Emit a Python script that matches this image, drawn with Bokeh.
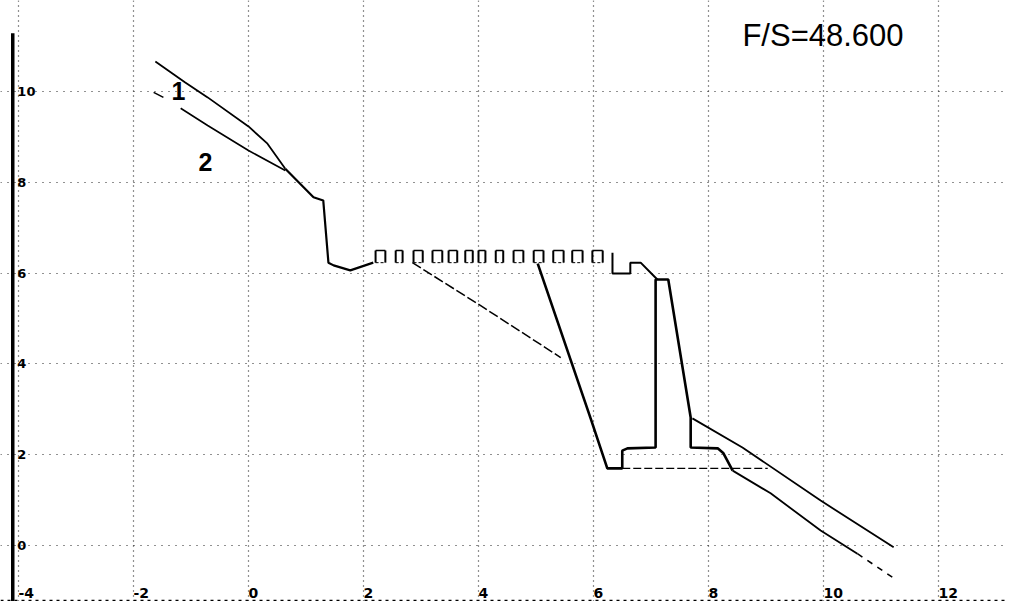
from bokeh.plotting import figure
from bokeh.models import Range1d, Span, FixedTicker
from bokeh.core.properties import value
from bokeh.embed import file_html
from bokeh.resources import INLINE

nan = float("nan")

# ---- data ----
x_ticks = [-4, -2, 0, 2, 4, 6, 8, 10, 12]
x_tick_labels = ["-4", "-2", "0", "2", "4", "6", "8", "10", "12"]
y_ticks = [0, 2, 4, 6, 8, 10]
y_tick_labels = ["0", "2", "4", "6", "8", "10"]

# curve 1 (upper-left branch)
c1_x = [-1.62, -1.10, -0.71, 0.00, 0.33, 0.64]
c1_y = [10.66, 10.20, 9.87, 9.23, 8.85, 8.30]
# curve 2 (lower-left branch)
c2_x = [-1.65, -1.48, nan, -1.18, -0.71, 0.00, 0.64]
c2_y = [9.98, 9.87, nan, 9.63, 9.25, 8.70, 8.26]
# common descent
common_x = [0.64, 1.13, 1.30, 1.39, 1.48, 1.77, 2.17]
common_y = [8.30, 7.67, 7.60, 6.23, 6.17, 6.06, 6.23]
# ladder of pulses
ladder_x = [2.21, 2.38, 2.56, 2.68, 2.87, 3.03, 3.20, 3.37, 3.48, 3.63, 3.77, 3.90, 4.00,
            4.12, 4.30, 4.43, 4.61, 4.78, 4.96, 5.13, 5.30, 5.48, 5.63, 5.81, 5.98, 6.16]
ladder_low = 6.23
ladder_high = 6.50
# small steps after the ladder
step_x = [6.33, 6.33, 6.64, 6.64, 6.82, 7.11]
step_y = [6.45, 5.99, 5.99, 6.23, 6.23, 5.86]
# shallow branch
shallow_x = [2.85, 3.98, 5.43]
shallow_y = [6.23, 5.33, 4.14]
# steep branch and pulse
steep_x = [5.03, 5.95, 6.24, 6.50, 6.50, 6.59, 7.08, 7.08, 7.30, 7.69, 7.69, 8.16, 8.26, 8.42]
steep_y = [6.21, 2.80, 1.70, 1.70, 2.09, 2.14, 2.16, 5.86, 5.86, 2.82, 2.16, 2.14, 2.03, 1.65]
# tails
lower_tail_x = [8.42, 9.08, 9.95, 10.59]
lower_tail_y = [1.65, 1.15, 0.33, -0.18]
lower_tail_end_x = [10.59, 11.20]
lower_tail_end_y = [-0.18, -0.70]
upper_tail_x = [7.72, 8.59, 9.95, 11.22]
upper_tail_y = [2.80, 2.16, 0.99, -0.04]
flat_x = [6.50, 9.03]
flat_y = [1.70, 1.70]

curve_labels = ["1", "2"]
curve_label_x = [-1.22, -0.75]
curve_label_y = [10.00, 8.44]

title_text = ["F/S=48.600"]

# ---- layout constants (frame geometry) ----
X0, X1 = -4.313, 13.165
Y0, Y1 = -1.233, 12.004
AXIS_X = -4.10
AXIS_TOP = 11.28
BASE_Y = -1.21
XLAB_Y = -1.035

p = figure(width=1005, height=601, output_backend="svg", toolbar_location=None,
           x_range=Range1d(X0, X1), y_range=Range1d(Y0, Y1),
           min_border_left=0, min_border_right=0, min_border_top=0, min_border_bottom=0)
p.outline_line_color = None
p.background_fill_color = "white"
p.border_fill_color = "white"
p.xaxis.visible = False
p.yaxis.visible = False
p.xaxis.ticker = FixedTicker(ticks=x_ticks)
p.yaxis.ticker = FixedTicker(ticks=y_ticks)
p.xgrid.ticker = FixedTicker(ticks=x_ticks)
p.ygrid.ticker = FixedTicker(ticks=y_ticks)
p.xgrid.grid_line_color = "#222222"
p.xgrid.grid_line_dash = "1 4"
p.xgrid.grid_line_width = 1.2
p.xgrid.bounds = (Y0, AXIS_TOP + 0.35)
p.ygrid.grid_line_color = "#222222"
p.ygrid.grid_line_dash = "1 6"
p.ygrid.grid_line_width = 1.2
p.ygrid.bounds = (AXIS_X, X1)

black = "black"
# frame lines (left axis and dashed base line)
p.segment(x0=[AXIS_X], y0=[Y0], x1=[AXIS_X], y1=[AXIS_TOP], line_color=black, line_width=3.5)
p.add_layout(Span(location=BASE_Y, dimension="width", line_color=black, line_width=1.5,
                  line_dash="3 4"))

p.line(c1_x, c1_y, line_color=black, line_width=1.8)
p.line(c2_x, c2_y, line_color=black, line_width=1.6)
p.line(common_x, common_y, line_color=black, line_width=2.2)
n = len(ladder_x)
p.segment(x0=ladder_x, y0=[ladder_low] * n, x1=ladder_x, y1=[ladder_high] * n,
          line_color=black, line_width=2)
lx0 = ladder_x[0::2]
lx1 = ladder_x[1::2]
p.segment(x0=lx0, y0=[ladder_high] * len(lx0), x1=lx1, y1=[ladder_high] * len(lx1),
          line_color=black, line_width=1.5)
p.segment(x0=lx0, y0=[ladder_low] * len(lx0), x1=lx1, y1=[ladder_low] * len(lx1),
          line_color=black, line_width=1.0, line_dash="3 2")
p.line(step_x, step_y, line_color=black, line_width=2)
p.line(shallow_x, shallow_y, line_color=black, line_width=1.5, line_dash="10 3")
p.line(steep_x, steep_y, line_color=black, line_width=2.6)
p.line(lower_tail_x, lower_tail_y, line_color=black, line_width=1.8)
p.line(lower_tail_end_x, lower_tail_end_y, line_color=black, line_width=1.6, line_dash="6 6")
p.line(upper_tail_x, upper_tail_y, line_color=black, line_width=1.8)
p.line(flat_x, flat_y, line_color=black, line_width=1.3, line_dash="8 3")

# curve numbers
p.text(x=curve_label_x, y=curve_label_y, text=curve_labels, text_align="center",
       text_baseline="middle", text_font=value("Liberation Sans"), text_font_size="25px",
       text_font_style="bold", text_color=black)

# tick labels drawn on the frame lines
p.text(x=x_ticks, y=[XLAB_Y] * len(x_ticks), text=x_tick_labels, text_align="left",
       text_baseline="middle", text_font=value("DejaVu Sans"), text_font_size="14px",
       text_font_style="bold", text_color=black)
p.text(x=[-4.02] * len(y_ticks), y=y_ticks, text=y_tick_labels, text_align="left",
       text_baseline="middle", text_font=value("DejaVu Sans"), text_font_size="13px",
       text_font_style="bold", text_color=black)

# header text
p.text(x=[8.59], y=[11.23], text=title_text, text_align="left", text_baseline="alphabetic",
       text_font=value("Liberation Sans"), text_font_size="31px", text_color=black)

open("out.html", "w").write(file_html(p, INLINE))
